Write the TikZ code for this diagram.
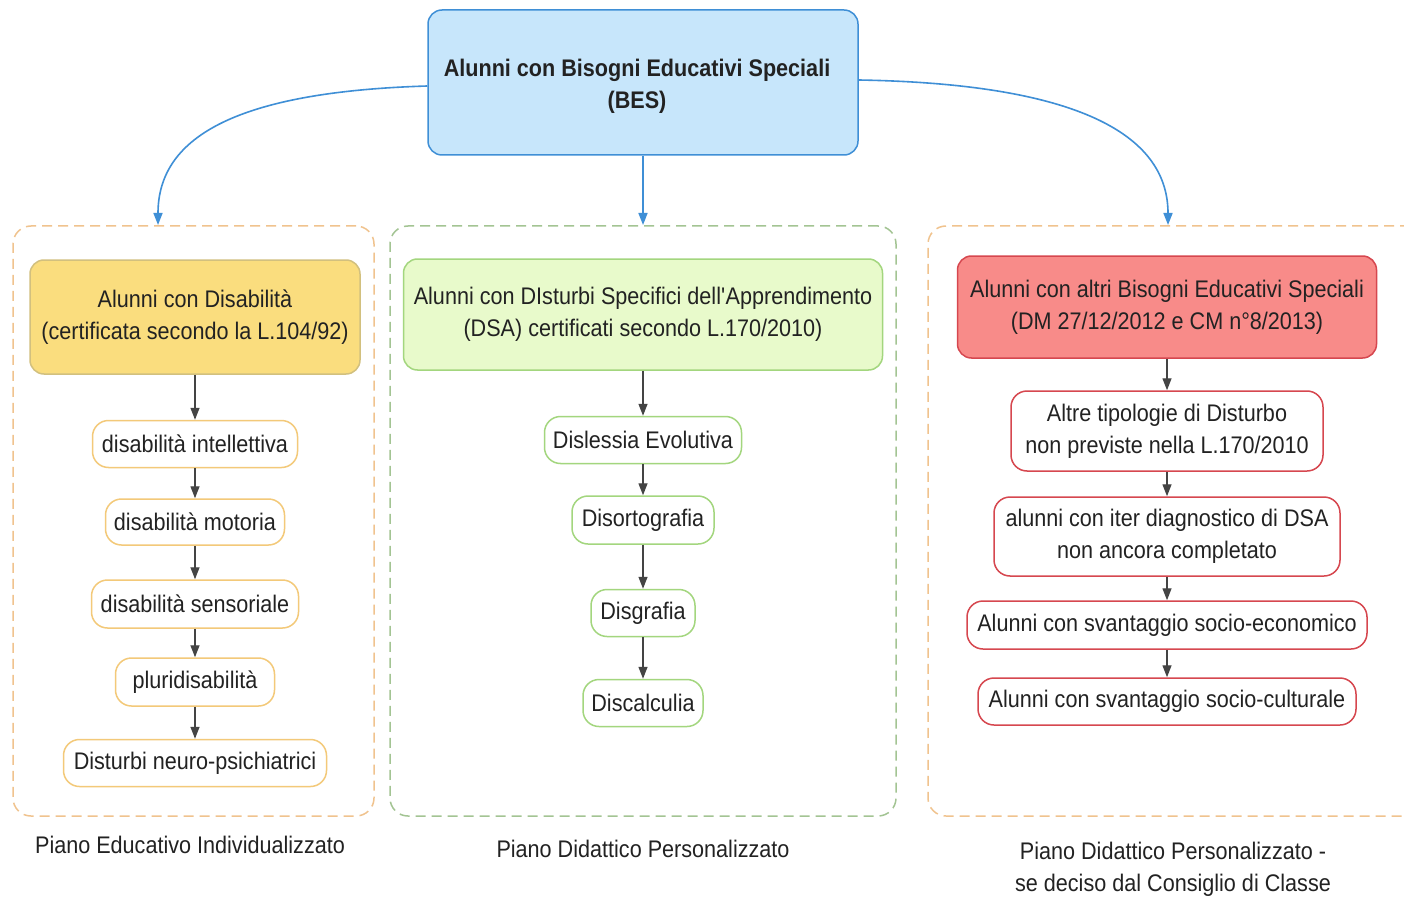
\documentclass[tikz,border=0pt]{standalone}
\usepackage{fontspec}
\setmainfont{Liberation Sans}[FakeStretch=0.9]
\usetikzlibrary{arrows.meta}
\definecolor{txt}{HTML}{222222}
\definecolor{besfill}{HTML}{C7E6FB}
\definecolor{besline}{HTML}{3F8FD6}
\definecolor{yfill}{HTML}{FADD7E}
\definecolor{yline}{HTML}{D2C07E}
\definecolor{oline}{HTML}{F3C979}
\definecolor{ocont}{HTML}{F0C38E}
\definecolor{gfill}{HTML}{E8FACB}
\definecolor{gline}{HTML}{A3D67E}
\definecolor{gcont}{HTML}{A3C493}
\definecolor{rfill}{HTML}{F88B89}
\definecolor{rline}{HTML}{D6474F}
\definecolor{darr}{HTML}{444444}
\tikzset{
  base/.style={rectangle, inner sep=0pt, align=center, text=txt,
    font=\fontsize{24}{32}\selectfont, line width=1.5pt},
  cont/.style={base, draw, dash pattern=on 10pt off 6pt, rounded corners=18pt},
  hdr/.style={base, draw, rounded corners=14pt},
  itemy/.style={base, draw=oline, fill=white, rounded corners=16pt},
  itemg/.style={base, draw=gline, fill=white, rounded corners=16pt},
  itemr/.style={base, draw=rline, fill=white, rounded corners=16pt},
  arr/.style={draw=darr, line width=1.4pt, -{Triangle[length=12pt,width=9pt]}},
  barr/.style={draw=besline, line width=1.6pt, -{Triangle[length=12pt,width=9pt]}},
  lbl/.style={base, align=center}
}
\begin{document}
\begin{tikzpicture}[x=1pt,y=-1pt]
\useasboundingbox (0,0) rectangle (1404,901);
\clip (0,0) rectangle (1404,901);
\fill[white] (0,0) rectangle (1404,901);

% containers
\node[cont, draw=ocont, minimum width=361pt, minimum height=590pt] (cl) at (193.5,521) {};
\node[cont, draw=gcont, minimum width=506pt, minimum height=590pt] (cm) at (643,521) {};
\node[cont, draw=ocont, minimum width=500pt, minimum height=590pt] (cr) at (1178,521) {};

% top
\node[hdr, draw=besline, fill=besfill, minimum width=430pt, minimum height=145pt] (bes) at (643,82.5) {};
\node[base, font=\fontsize{24}{32}\bfseries\selectfont] (best) at (637,86) {Alunni con Bisogni Educativi Speciali\\(BES)};

% left column
\node[hdr, draw=yline, fill=yfill, minimum width=330pt, minimum height=114pt] (lh) at (195,317) {Alunni con Disabilità\\(certificata secondo la L.104/92)};
\node[itemy, minimum width=205pt, minimum height=47pt] (l1) at (195,444) {disabilità intellettiva};
\node[itemy, minimum width=179pt, minimum height=46pt] (l2) at (195,522) {disabilità motoria};
\node[itemy, minimum width=207pt, minimum height=48pt] (l3) at (195,604) {disabilità sensoriale};
\node[itemy, minimum width=159pt, minimum height=48pt] (l4) at (195,682) {pluridisabilità};
\node[itemy, minimum width=263pt, minimum height=47pt] (l5) at (195,763) {Disturbi neuro-psichiatrici};
\node[lbl] (ll) at (190,845) {Piano Educativo Individualizzato};

% middle column
\node[hdr, draw=gline, fill=gfill, minimum width=479pt, minimum height=111pt] (mh) at (643,314.5) {Alunni con DIsturbi Specifici dell\textquotesingle Apprendimento\\(DSA) certificati secondo L.170/2010)};
\node[itemg, minimum width=197pt, minimum height=47pt] (m1) at (643,440) {Dislessia Evolutiva};
\node[itemg, minimum width=142pt, minimum height=48pt] (m2) at (643,520) {Disortografia};
\node[itemg, minimum width=104pt, minimum height=47pt] (m3) at (643,613) {Disgrafia};
\node[itemg, minimum width=120pt, minimum height=47pt] (m4) at (643,703) {Discalculia};
\node[lbl] (ml) at (643,849) {Piano Didattico Personalizzato};

% right column
\node[hdr, draw=rline, fill=rfill, minimum width=419pt, minimum height=102pt] (rh) at (1167,307) {Alunni con altri Bisogni Educativi Speciali\\(DM 27/12/2012 e CM n°8/2013)};
\node[itemr, minimum width=312pt, minimum height=80pt] (r1) at (1167,431) {Altre tipologie di Disturbo\\non previste nella L.170/2010};
\node[itemr, minimum width=346pt, minimum height=79pt] (r2) at (1167,536.5) {alunni con iter diagnostico di DSA\\non ancora completato};
\node[itemr, minimum width=400pt, minimum height=48pt] (r3) at (1167,625) {Alunni con svantaggio socio-economico};
\node[itemr, minimum width=378pt, minimum height=47pt] (r4) at (1167,701.5) {Alunni con svantaggio socio-culturale};
\node[lbl] (rl) at (1173,869) {Piano Didattico Personalizzato -\\se deciso dal Consiglio di Classe};

% top connectors
\coordinate (bl) at (bes.west |- 0,86);
\coordinate (br) at (bes.east |- 0,80);
\coordinate (tl) at (158,225);
\coordinate (tm) at (643,225);
\coordinate (tr) at (1168,225);
\draw[barr] (bl) .. controls (230,92) and (158,140) .. (tl);
\draw[barr] (bes.south) -- (tm);
\draw[barr] (br) .. controls (1090,84) and (1168,140) .. (tr);

% inner connectors
\draw[arr] (lh.south) -- (l1.north);
\draw[arr] (l1.south) -- (l2.north);
\draw[arr] (l2.south) -- (l3.north);
\draw[arr] (l3.south) -- (l4.north);
\draw[arr] (l4.south) -- (l5.north);
\draw[arr] (mh.south) -- (m1.north);
\draw[arr] (m1.south) -- (m2.north);
\draw[arr] (m2.south) -- (m3.north);
\draw[arr] (m3.south) -- (m4.north);
\draw[arr] (rh.south) -- (r1.north);
\draw[arr] (r1.south) -- (r2.north);
\draw[arr] (r2.south) -- (r3.north);
\draw[arr] (r3.south) -- (r4.north);
\end{tikzpicture}
\end{document}
